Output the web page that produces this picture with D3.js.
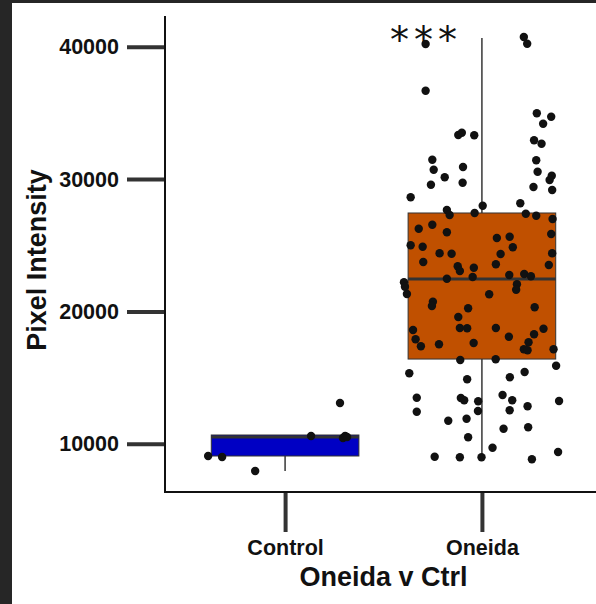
<!DOCTYPE html>
<html>
<head>
<meta charset="utf-8">
<script src="https://cdn.jsdelivr.net/npm/d3@7"></script>
<style>
  html, body { margin: 0; padding: 0; background: #262626; }
  svg { display: block; }
  .tick text { font-family: "Liberation Sans", Arial, sans-serif; font-weight: bold; font-size: 21.5px; fill: #111; }
</style>
</head>
<body>
<div id="chart"></div>
<script>
// groups and box stats
const groups = ["Control", "Oneida"];
const whiskerLow = [7937, 8990];
const q1 = [9071, 16400];
const median = [10507, 22450];
const q3 = [10658, 27440];
const whiskerHigh = [10658, 40660];

const yTicks = [10000, 20000, 30000, 40000];

// jittered points (value, horizontal jitter in group units)
const controlValues = [9071, 8995, 7937, 10583, 10431, 10583, 10507, 13077];
const controlJitter = [-0.391, -0.32, -0.152, 0.132, 0.294, 0.305, 0.315, 0.279];

const oneidaValues = [
  40213, 36683, 33335, 33508, 33312, 31468, 30712, 30137, 29578, 30916,
  29729, 28625, 40742, 40236, 34975, 34718, 34189, 32934, 32677, 31422,
  30561, 30258, 29933, 29404, 29177, 27666, 27991, 28172, 27288, 27439,
  27386, 27235, 26985, 26252, 26554, 25980, 24997, 24891, 25851, 25549,
  25647, 24846, 24340, 24392, 24362, 24392, 23735, 23561, 23410, 23055,
  23304, 23508, 22473, 22601, 22752, 22828, 22654, 22200, 21868, 21316,
  22049, 21641, 21293, 20734, 20409, 20235, 20311, 19578, 18595, 17892,
  17362, 18746, 18723, 18746, 18693, 18089, 18270, 17665, 17515, 17612,
  17136, 17061, 17136, 16327, 16380, 15889, 15322, 14868, 15420, 15020,
  13478, 12420, 13455, 13281, 13205, 12472, 13682, 13281, 12828, 13228,
  12525, 11739, 11891, 11135, 11240, 10484, 9698, 9018, 8972, 8972,
  8821, 9374
];
const oneidaJitter = [
  -0.286, -0.286, -0.12, -0.102, -0.039, -0.252, -0.245, -0.189, -0.259, -0.096,
  -0.098, -0.362, 0.213, 0.23, 0.279, 0.352, 0.311, 0.265, 0.303, 0.276,
  0.283, 0.355, 0.344, 0.262, 0.357, -0.178, 0.004, 0.195, -0.164, -0.037,
  0.223, 0.276, 0.359, -0.321, -0.252, -0.178, -0.362, -0.301, 0.352, 0.076,
  0.141, 0.157, 0.095, -0.215, -0.154, 0.357, -0.298, 0.071, -0.123, -0.112,
  -0.041, 0.34, -0.178, -0.047, 0.139, 0.215, 0.249, -0.396, -0.391, -0.381,
  0.178, 0.174, 0.037, -0.249, -0.254, -0.07, 0.268, -0.12, -0.35, -0.337,
  -0.31, -0.112, -0.075, 0.071, 0.313, 0.137, 0.265, 0.237, -0.218, -0.042,
  0.213, 0.232, 0.364, -0.11, 0.07, 0.377, -0.369, -0.075, 0.217, 0.142,
  -0.331, -0.331, -0.107, -0.09, -0.019, -0.02, 0.105, 0.154, 0.232, 0.392,
  0.141, -0.171, -0.078, 0.11, 0.235, -0.07, 0.054, -0.24, -0.112, -0.002,
  0.254, 0.387
];

const width = 596, height = 604;
const panel = { left: 165, right: 600, top: 16, bottom: 492 };

const svg = d3.select("#chart").append("svg")
  .attr("width", width)
  .attr("height", height);

// white sheet (dark frame on left / top)
svg.append("rect")
  .attr("x", 12).attr("y", 3)
  .attr("width", width - 12).attr("height", height - 3)
  .attr("fill", "#fff");

const x = d3.scalePoint().domain(groups).range([panel.left + 2, panel.right]).padding(0.6);
const step = x.step();
const boxW = step * 0.75;

const y = d3.scaleLinear().domain([6350, 42330]).range([panel.bottom, panel.top]);

const fill = d3.scaleOrdinal().domain(groups).range(["#0000c4", "#c05000"]);

const boxes = groups.map((g, i) => ({
  group: g, lo: whiskerLow[i], q1: q1[i], med: median[i], q3: q3[i], hi: whiskerHigh[i]
}));

// whiskers
svg.selectAll(".whisker-low").data(boxes).enter().append("line")
  .attr("x1", d => x(d.group)).attr("x2", d => x(d.group))
  .attr("y1", d => y(d.q1)).attr("y2", d => y(d.lo))
  .attr("stroke", "#444").attr("stroke-width", 1.6);
svg.selectAll(".whisker-high").data(boxes).enter().append("line")
  .attr("x1", d => x(d.group)).attr("x2", d => x(d.group))
  .attr("y1", d => y(d.q3)).attr("y2", d => y(d.hi))
  .attr("stroke", "#444").attr("stroke-width", 1.6);

// boxes
svg.selectAll(".box").data(boxes).enter().append("rect")
  .attr("x", d => x(d.group) - boxW / 2)
  .attr("width", boxW)
  .attr("y", d => y(d.q3))
  .attr("height", d => y(d.q1) - y(d.q3))
  .attr("fill", d => fill(d.group))
  .attr("stroke", "#333").attr("stroke-width", 1);

svg.selectAll(".median").data(boxes).enter().append("line")
  .attr("x1", d => x(d.group) - boxW / 2).attr("x2", d => x(d.group) + boxW / 2)
  .attr("y1", d => y(d.med)).attr("y2", d => y(d.med))
  .attr("stroke", "#333").attr("stroke-width", 3);

// points
const pts = controlValues.map((v, i) => ({ group: "Control", v: v, j: controlJitter[i] }))
  .concat(oneidaValues.map((v, i) => ({ group: "Oneida", v: v, j: oneidaJitter[i] })));

svg.selectAll(".pt").data(pts).enter().append("circle")
  .attr("cx", d => x(d.group) + d.j * step)
  .attr("cy", d => y(d.v))
  .attr("r", 4.2)
  .attr("fill", "#111");

// axes
const yAxis = svg.append("g")
  .attr("transform", `translate(${panel.left},0)`)
  .call(d3.axisLeft(y).tickValues(yTicks).tickSize(38).tickPadding(8).tickFormat(d3.format("d")));
yAxis.select(".domain").remove();
yAxis.selectAll(".tick line").attr("stroke", "#333").attr("stroke-width", 4);

const xAxis = svg.append("g")
  .attr("transform", `translate(0,${panel.bottom})`)
  .call(d3.axisBottom(x).tickSize(40).tickPadding(8));
xAxis.select(".domain").remove();
xAxis.selectAll(".tick line").attr("stroke", "#333").attr("stroke-width", 4);

svg.append("line")
  .attr("x1", panel.left).attr("x2", panel.left)
  .attr("y1", panel.top).attr("y2", panel.bottom + 1)
  .attr("stroke", "#111").attr("stroke-width", 2);
svg.append("line")
  .attr("x1", panel.left - 1).attr("x2", width)
  .attr("y1", panel.bottom).attr("y2", panel.bottom)
  .attr("stroke", "#111").attr("stroke-width", 2);

// axis titles
svg.append("text")
  .attr("transform", `translate(46,${(panel.top + panel.bottom) / 2 + 6}) rotate(-90)`)
  .attr("text-anchor", "middle")
  .style("font-family", "Liberation Sans, Arial, sans-serif")
  .style("font-weight", "bold")
  .style("font-size", "27px")
  .attr("fill", "#111")
  .text("Pixel Intensity");

svg.append("text")
  .attr("x", (x("Control") + x("Oneida")) / 2)
  .attr("y", 586)
  .attr("text-anchor", "middle")
  .style("font-family", "Liberation Sans, Arial, sans-serif")
  .style("font-weight", "bold")
  .style("font-size", "27px")
  .attr("fill", "#111")
  .text("Oneida v Ctrl");

// significance
svg.append("text")
  .attr("x", x("Oneida") - 56)
  .attr("y", 53)
  .attr("text-anchor", "middle")
  .style("font-family", "DejaVu Sans, sans-serif")
  .style("font-size", "38px")
  .style("letter-spacing", "5px")
  .attr("fill", "#111")
  .text("***");
</script>
</body>
</html>
